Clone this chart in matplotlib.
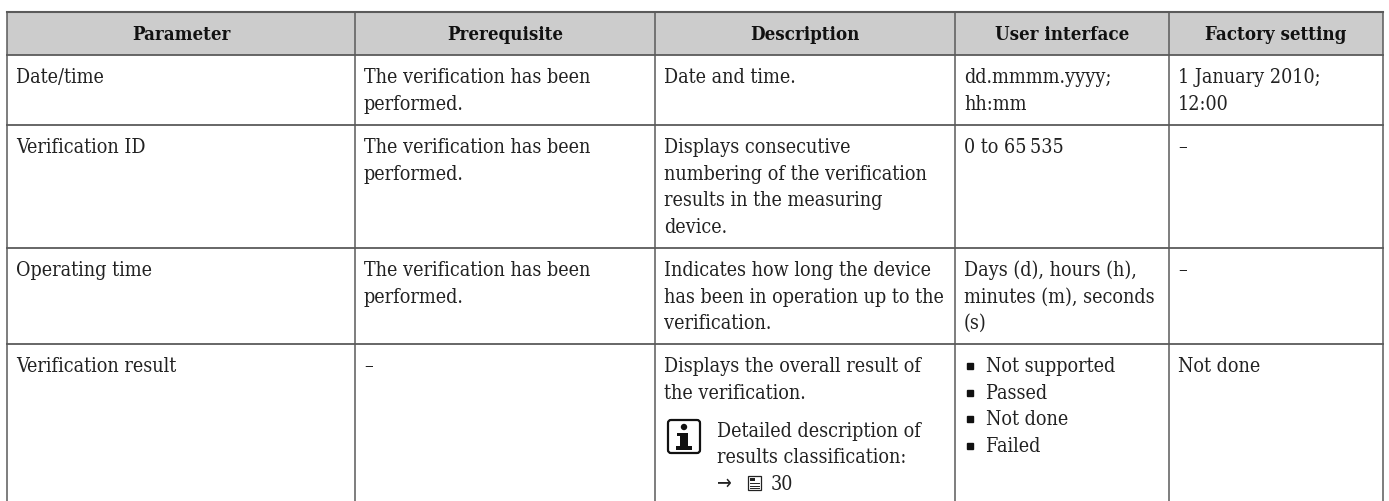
import matplotlib
matplotlib.use('Agg')
from matplotlib import pyplot as plt
from matplotlib.patches import Circle, FancyBboxPatch, Rectangle

plt.rcParams['font.family'] = ['DejaVu Serif', 'DejaVu Sans']

# table content
headers = ['Parameter', 'Prerequisite', 'Description', 'User interface', 'Factory setting']
parameters = ['Date/time', 'Verification ID', 'Operating time', 'Verification result']
prerequisites = [
    ['The verification has been', 'performed.'],
    ['The verification has been', 'performed.'],
    ['The verification has been', 'performed.'],
    ['–'],
]
descriptions = [
    ['Date and time.'],
    ['Displays consecutive', 'numbering of the verification', 'results in the measuring', 'device.'],
    ['Indicates how long the device', 'has been in operation up to the', 'verification.'],
    ['Displays the overall result of', 'the verification.'],
]
interfaces = [
    ['dd.mmmm.yyyy;', 'hh:mm'],
    ['0 to 65\u2009535'],
    ['Days (d), hours (h),', 'minutes (m), seconds', '(s)'],
    [],
]
choices = ['Not supported', 'Passed', 'Not done', 'Failed']
factory = [
    ['1 January 2010;', '12:00'],
    ['–'],
    ['–'],
    ['Not done'],
]
note_lines = ['Detailed description of', 'results classification:']
page_ref = '30'

col_edges = [7, 355, 655, 955, 1169, 1383]
row_edges = [55, 125, 248, 344]
top = 12
bottom = 501
line_h = 26.6
font_size = 14.1
line_col = '#5a5a5a'
text_col = '#222222'

fig = plt.figure(figsize=(13.89, 5.01), dpi=100)
ax = fig.add_axes([0, 0, 1, 1])
ax.set_xlim(0, 1389)
ax.set_ylim(501, 0)
ax.axis('off')


def put(x, y, s, **kw):
    ax.text(x, y, s, fontsize=font_size, color=text_col, va='baseline', stretch='condensed', **kw)


# header band and grid
ax.add_patch(Rectangle((col_edges[0], top), col_edges[-1] - col_edges[0], row_edges[0] - top,
                       fc='#cccccc', ec='none', zorder=0))
for x in col_edges:
    ax.plot([x, x], [top, bottom], color=line_col, lw=1.1, solid_capstyle='butt')
ax.plot([col_edges[0], col_edges[-1]], [top, top], color=line_col, lw=1.5)
for y in row_edges:
    ax.plot([col_edges[0], col_edges[-1]], [y, y], color=line_col, lw=1.3)

for i, h in enumerate(headers):
    ax.text((col_edges[i] + col_edges[i + 1]) / 2, 39.5, h, fontsize=13.4, color='#111111',
            ha='center', va='baseline', weight='bold', stretch='condensed')

columns = [[[p] for p in parameters], prerequisites, descriptions, interfaces, factory]
for c, column in enumerate(columns):
    for r, cell in enumerate(column):
        for n, line in enumerate(cell):
            put(col_edges[c] + 9, row_edges[r] + 28 + n * line_h, line)

# bullet list
for n, item in enumerate(choices):
    y = row_edges[3] + 28 + n * line_h
    ax.plot([970], [y - 6], marker='s', ms=4.5, color='#111111')
    put(986, y, item)

# note with info icon
ax.add_patch(FancyBboxPatch((668, 420), 32, 33, boxstyle='round,pad=0,rounding_size=3',
                            fc='white', ec='#111111', lw=1.6))
ax.add_patch(Circle((684, 427), 3.2, fc='#111111', ec='none'))
ax.add_patch(Rectangle((680, 433), 8, 14, fc='#111111', ec='none'))
ax.add_patch(Rectangle((676, 446), 16, 3.5, fc='#111111', ec='none'))
ax.add_patch(Rectangle((677, 433), 5, 3, fc='#111111', ec='none'))
put(717, 437, note_lines[0])
put(717, 463, note_lines[1])
put(717, 489, '\u2192', family=['DejaVu Sans'])
ax.add_patch(Rectangle((748, 476), 13, 14, fc='white', ec='#222222', lw=0.9))
ax.add_patch(Rectangle((750, 478), 5, 3, fc='#222222', ec='none'))
for yy in [483, 485.5, 488]:
    ax.plot([750, 759], [yy, yy], color='#222222', lw=0.7)
put(771, 490, page_ref)

fig.savefig('out.png', dpi=100)
